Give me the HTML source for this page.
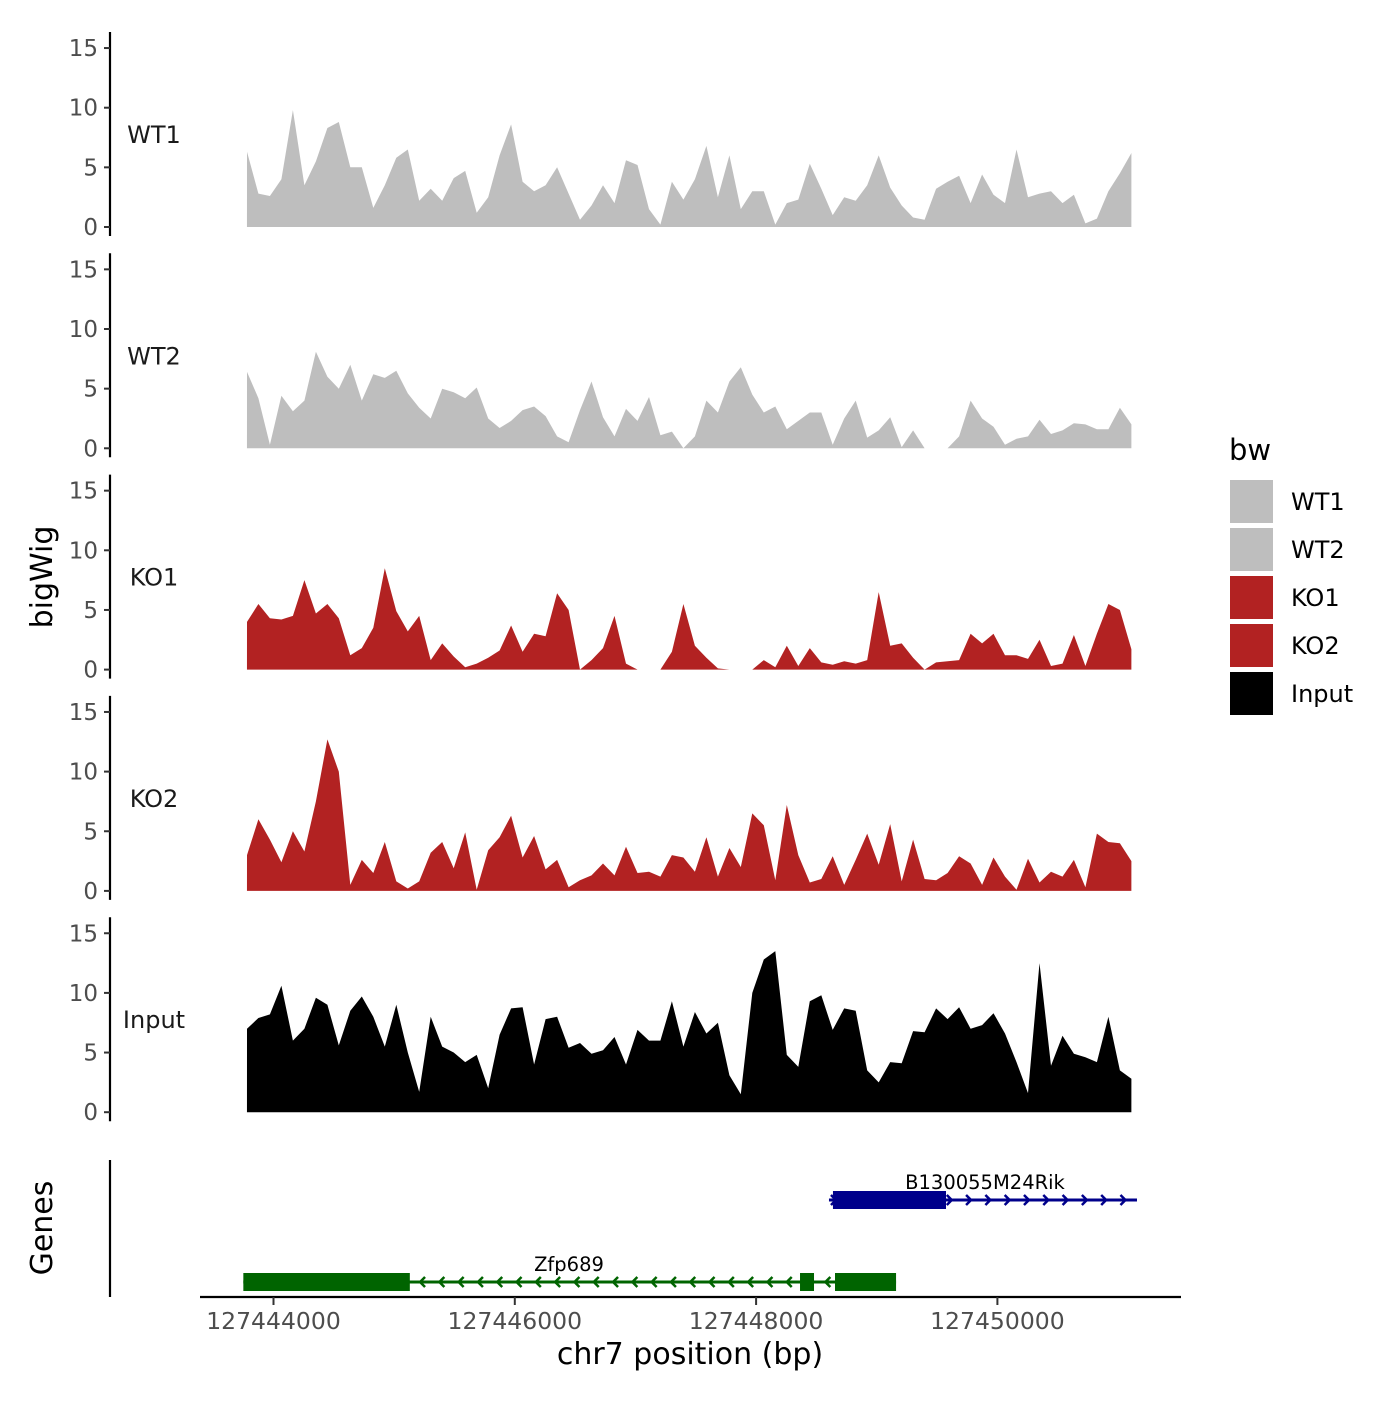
<!DOCTYPE html>
<html><head><meta charset="utf-8"><style>
body{margin:0;background:#fff}
svg text{font-family:"DejaVu Sans","Liberation Sans",sans-serif}
</style></head><body>
<svg id="chart" width="1400" height="1400" xmlns="http://www.w3.org/2000/svg">
<g id="tracks"></g>
<text transform="translate(52,577) rotate(-90)" text-anchor="middle" font-size="30" fill="#000">bigWig</text>
<text transform="translate(52,1228) rotate(-90)" text-anchor="middle" font-size="30" fill="#000">Genes</text>
<line x1="110" y1="1160" x2="110" y2="1297" stroke="#000" stroke-width="2.2"/>
<line x1="200" y1="1297" x2="1181" y2="1297" stroke="#000" stroke-width="2.2"/>
<g id="xaxis"></g>
<text x="690" y="1364" text-anchor="middle" font-size="30" fill="#000">chr7 position (bp)</text>
<g id="genes"></g>
<g id="legend"></g>
</svg>
<script>
const trackNames = ["WT1","WT2","KO1","KO2","Input"];
const trackColors = ["#bebebe","#bebebe","#b22222","#b22222","#000000"];
const binStart = 127443780;
const binStep = 95.2;
const wt1 = [6.3,2.8,2.6,4,9.8,3.5,5.5,8.3,8.8,5,5,1.6,3.5,5.8,6.5,2.2,3.2,2.2,4.1,4.7,1.2,2.5,6,8.6,3.8,3,3.5,5,2.8,0.6,1.8,3.5,2,5.6,5.2,1.5,0.2,3.8,2.3,4,6.8,2.5,6,1.5,3,3,0.2,2,2.3,5.3,3.2,1,2.5,2.2,3.5,6,3.3,1.8,0.8,0.6,3.2,3.8,4.3,2,4.4,2.7,2,6.5,2.5,2.8,3,2,2.7,0.3,0.7,3,4.5,6.2];
const wt2 = [6.4,4.2,0.3,4.4,3.1,4,8.1,6,5,7,4,6.2,5.9,6.5,4.6,3.4,2.5,5,4.7,4.2,5.1,2.5,1.7,2.3,3.2,3.5,2.7,1,0.5,3.2,5.6,2.6,1,3.3,2.3,4.3,1.1,1.4,0,1,4,3,5.6,6.8,4.5,3,3.5,1.6,2.3,3,3,0.3,2.5,4,0.9,1.5,2.6,0.1,1.5,0,null,0,1,4,2.5,1.8,0.3,0.8,1,2.4,1.2,1.5,2.1,2,1.6,1.6,3.4,2];
const ko1 = [4,5.5,4.3,4.2,4.5,7.5,4.7,5.5,4.3,1.2,1.8,3.5,8.5,4.9,3.2,4.5,0.8,2.2,1.1,0.2,0.5,1,1.6,3.7,1.5,3,2.8,6.4,5,0,0.8,1.8,4.5,0.5,0,null,0,1.5,5.5,2,1,0.1,0,null,0,0.8,0.2,2,0.3,1.8,0.6,0.4,0.7,0.5,0.8,6.5,2,2.2,1,0,0.6,0.7,0.8,3,2.2,3,1.2,1.2,0.9,2.5,0.3,0.5,2.9,0.3,3,5.5,5,1.7];
const ko2 = [3,6,4.3,2.4,5,3.3,7.5,12.7,10,0.5,2.6,1.5,4.1,0.8,0.2,0.8,3.2,4.1,1.9,4.9,0.1,3.4,4.5,6.3,2.8,4.6,1.8,2.6,0.3,0.9,1.3,2.3,1.3,3.7,1.5,1.6,1.2,3,2.8,1.6,4.5,1.2,3.6,2,6.5,5.5,0.9,7.2,3,0.7,1,2.9,0.5,2.6,4.8,2.2,5.6,0.8,4.3,1,0.9,1.5,2.9,2.3,0.5,2.8,1.2,0.1,2.7,0.7,1.6,1.2,2.6,0.3,4.8,4.1,4,2.5];
const inputBw = [7,7.9,8.2,10.6,6,7,9.6,9,5.6,8.5,9.7,8,5.5,9,5,1.7,8,5.5,5,4.2,4.8,2,6.5,8.7,8.8,4,7.8,8,5.4,5.8,4.9,5.2,6.3,4,6.9,6,6,9.3,5.5,8.4,6.6,7.5,3.1,1.5,10,12.8,13.5,4.8,3.8,9.3,9.8,6.9,8.7,8.5,3.5,2.5,4.2,4.1,6.8,6.7,8.7,7.8,8.8,7,7.3,8.3,6.6,4.2,1.6,12.5,3.9,6.4,4.9,4.6,4.2,8,3.5,2.8];
const yTicks = [0,5,10,15];
const xTicks = [127444000,127446000,127448000,127450000];
const geneNames = ["B130055M24Rik","Zfp689"];
const geneStarts = [127448604,127443750];
const geneEnds = [127451157,127449160];
const geneStrands = ["+","-"];
const exonStarts = [[127448637],[127443750,127448364,127448654]];
const exonEnds = [[127449574],[127445130,127448480,127449160]];

const series=[wt1,wt2,ko1,ko2,inputBw];
const NS="http://www.w3.org/2000/svg";
function X(bp){return 273.5+(bp-127444000)*0.12065;}
const zeroY=[227,448.3,669.6,890.9,1112.2];
const unit=11.93;
function mk(tag,attrs,parent){const e=document.createElementNS(NS,tag);for(const k in attrs)e.setAttribute(k,attrs[k]);parent.appendChild(e);return e;}
const tracks=document.getElementById('tracks');
series.forEach((vals,t)=>{
  const g=mk('g',{},tracks);
  
  
  const z=zeroY[t];
  const Y=v=>z-v*unit;
  const ax=mk('line',{x1:110,y1:z-195,x2:110,y2:z+9,stroke:'#000','stroke-width':2.2},g);
  
  
  yTicks.forEach(v=>{
    const tk=mk('line',{x1:104,y1:Y(v),x2:110,y2:Y(v),stroke:'#333','stroke-width':2},g);
    
    
    const tl=mk('text',{x:98,y:Y(v)+8,'text-anchor':'end','font-size':23,fill:'#4d4d4d'},g);
    tl.textContent=v;
    
    
  });
  const lab=mk('text',{x:154,y:z-84,'text-anchor':'middle','font-size':24,fill:'#1a1a1a'},g);
  lab.textContent=trackNames[t];
  
  
  let segs=[],cur=[];
  vals.forEach((v,i)=>{ if(v===null){ if(cur.length)segs.push(cur); cur=[]; } else cur.push([X(binStart+i*binStep),Y(v)]); });
  if(cur.length)segs.push(cur);
  segs.forEach(s=>{
    let d='M'+s[0][0]+','+z+' '+s.map(p=>'L'+p[0].toFixed(1)+','+p[1].toFixed(1)).join(' ')+' L'+s[s.length-1][0]+','+z+' Z';
    const p=mk('path',{d:d,fill:trackColors[t]},g);
    
    
  });
});
const xa=document.getElementById('xaxis');
xTicks.forEach(v=>{
  const tk=mk('line',{x1:X(v),y1:1297,x2:X(v),y2:1305,stroke:'#333','stroke-width':2},xa);
  
  
  const tl=mk('text',{x:X(v),y:1329,'text-anchor':'middle','font-size':23.5,fill:'#4d4d4d'},xa);
  tl.textContent=v;
  
  
});
const gg=document.getElementById('genes');
const geneY=[1200,1282];
const geneCol=["#00008b","#006400"];
geneNames.forEach((n,i)=>{
  const y=geneY[i],c=geneCol[i];
  const g=mk('g',{},gg);
  
  
  mk('line',{x1:X(geneStarts[i]),y1:y,x2:X(geneEnds[i]),y2:y,stroke:c,'stroke-width':3},g);
  const x0=X(geneStarts[i]),x1=X(geneEnds[i]);
  for(let x=x0+5;x<=x1;x+=19.3){
    const dir=geneStrands[i]==='+'?1:-1;
    mk('polyline',{points:(x-3*dir)+','+(y-5)+' '+(x+2*dir)+','+y+' '+(x-3*dir)+','+(y+5),fill:'none',stroke:c,'stroke-width':2.5},g);
  }
  exonStarts[i].forEach((s,k)=>{
    const r=mk('rect',{x:X(s),y:y-9,width:X(exonEnds[i][k])-X(s),height:18,fill:c},g);
    
    
  });
  const t=mk('text',{x:i===0?985:569,y:y-11,'text-anchor':'middle','font-size':19.5,fill:'#000'},g);
  t.textContent=n;
  
  
});
const lg=document.getElementById('legend');
const lt=mk('text',{x:1229,y:460,'font-size':29,fill:'#000'},lg);
lt.textContent='bw';


trackNames.forEach((n,i)=>{
  const y=480+i*48;
  const r=mk('rect',{x:1230,y:y,width:43,height:43,fill:trackColors[i]},lg);
  
  
  const t=mk('text',{x:1291,y:y+30,'font-size':24,fill:'#000'},lg);
  t.textContent=n;
  
  
});
</script>
</body></html>
